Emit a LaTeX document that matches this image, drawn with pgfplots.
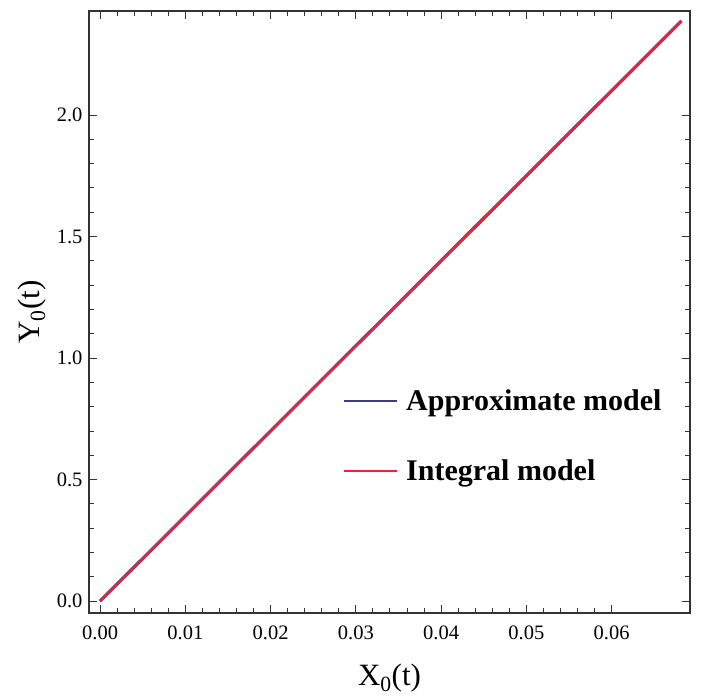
\documentclass[border=0pt]{standalone}
\usepackage{pgfplots}
\pgfplotsset{compat=1.18}
\usepackage{fontspec}
\setmainfont{Liberation Serif}
\definecolor{apblue}{RGB}{60,60,140}
\definecolor{inred}{RGB}{235,35,60}
\begin{document}
\begin{tikzpicture}
\begin{axis}[
  scale only axis,
  width=601pt, height=602pt,
  xmin=-0.0013, xmax=0.0692,
  ymin=-0.049, ymax=2.428,
  xtick={0,0.01,0.02,0.03,0.04,0.05,0.06},
  ytick={0,0.5,1.0,1.5,2.0},
  minor x tick num=4,
  minor y tick num=4,
  tick align=inside,
  major tick length=8pt,
  minor tick length=5pt,
  axis line style={line width=1.2pt, black!80},
  every tick/.style={black!80, line width=0.9pt},
  /pgf/number format/assume math mode=true,
  xticklabel style={/pgf/number format/fixed, /pgf/number format/fixed zerofill, /pgf/number format/precision=2, font=\fontsize{20.5}{24}\selectfont, yshift=-9pt},
  yticklabel style={/pgf/number format/fixed, /pgf/number format/fixed zerofill, /pgf/number format/precision=1, font=\fontsize{20.5}{24}\selectfont, xshift=-3pt},
  scaled x ticks=false,
  xlabel={X\textsubscript{0}(t)},
  ylabel={Y\textsubscript{0}(t)},
  xlabel style={font=\fontsize{31}{34}\selectfont, yshift=-18pt},
  ylabel style={font=\fontsize{31}{34}\selectfont, yshift=4pt},
  legend cell align=left,
  legend style={draw=none, fill=none, at={(0.418,0.378)}, anchor=north west,
    font=\fontsize{30}{34}\bfseries\selectfont, row sep=44pt,
    nodes={inner xsep=8pt}},
  legend image code/.code={\draw[#1, line width=1.8pt] (0pt,0pt) -- (53pt,0pt);},
]
\addplot[apblue, line width=3.2pt] coordinates {
(0,0) (0.01,0.35) (0.02,0.70) (0.03,1.05) (0.04,1.40) (0.05,1.75) (0.06,2.10) (0.0682,2.387)};
\addlegendentry{Approximate model}
\addplot[inred, line width=2.4pt] coordinates {
(0,0) (0.01,0.35) (0.02,0.70) (0.03,1.05) (0.04,1.40) (0.05,1.75) (0.06,2.10) (0.0682,2.387)};
\addlegendentry{Integral model}
\end{axis}
\path (current axis.south west) ++(-89pt,-81pt);
\path (current axis.north east) ++(12pt,11pt);
\end{tikzpicture}
\end{document}
